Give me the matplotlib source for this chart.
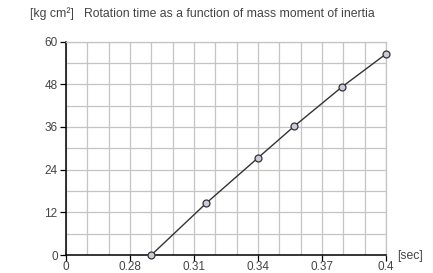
import matplotlib
matplotlib.use("Agg")
import matplotlib.pyplot as plt
import numpy as np

# data (seconds, kg cm^2)
rot_time = [0.29, 0.3158, 0.34, 0.357, 0.3795, 0.40]
inertia = [0.0, 14.6, 27.3, 36.2, 47.3, 56.5]
x_ticks = [0, 0.28, 0.31, 0.34, 0.37, 0.4]
x_tick_labels = ["0", "0.28", "0.31", "0.34", "0.37", "0.4"]
y_ticks = [0, 12, 24, 36, 48, 60]

OFFSET = 0.25  # broken axis: 0 then 0.28 .. 0.4

def tx(v):
    return 0.0 if v == 0 else v - OFFSET

plt.rcParams['font.family'] = ['Liberation Sans', 'DejaVu Sans']
fig = plt.figure(figsize=(4.33, 2.73), dpi=100)
W, H = 433, 273
ax = fig.add_axes([66 / W, (H - 255) / H, 320 / W, (255 - 41.5) / H])

txt_col = '#444444'
grid_col = '#c4c4c4'

ax.set_xlim(0, 0.15)
ax.set_ylim(0, 60)
ax.set_xticks([tx(v) for v in x_ticks])
ax.set_xticklabels(x_tick_labels)
ax.set_yticks(y_ticks)
ax.set_xticks(np.arange(0, 0.1501, 0.01), minor=True)
ax.set_yticks(np.arange(0, 60.1, 6), minor=True)
ax.grid(which='both', color=grid_col, linewidth=0.9)
ax.tick_params(which='minor', length=0)
ax.tick_params(which='major', length=4, width=0.9, color='black',
               labelsize=8.5, labelcolor=txt_col)
ax.tick_params(axis='x', which='major', pad=0.3)
ax.tick_params(axis='y', which='major', pad=2)
ax.set_axisbelow(True)

for s in ['top', 'right']:
    ax.spines[s].set_color(grid_col)
    ax.spines[s].set_linewidth(0.9)
for s in ['left', 'bottom']:
    ax.spines[s].set_color('black')
    ax.spines[s].set_linewidth(1.1)

ax.plot([tx(v) for v in rot_time], inertia, color='#333333', linewidth=1.0,
        marker='o', markersize=5, markerfacecolor='#c9cbdc',
        markeredgecolor='#333333', markeredgewidth=0.9, clip_on=False, zorder=5)

fig.text(30 / W, 1 - 14 / H, "[kg cm\u00b2]   Rotation time as a function of mass moment of inertia",
         fontsize=8.8, color=txt_col, va='center', ha='left')
fig.text(397 / W, 1 - 256 / H, "[sec]", fontsize=8.8, color=txt_col,
         va='center', ha='left')

fig.savefig("out.png", dpi=100)
